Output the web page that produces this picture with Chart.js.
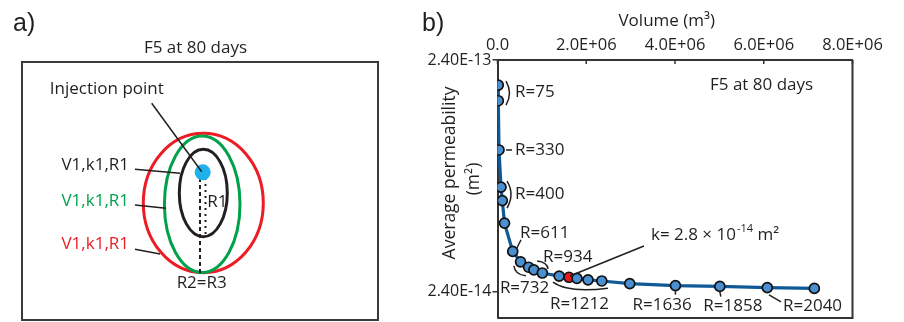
<!DOCTYPE html>
<html>
<head>
<meta charset="utf-8">
<script src="https://cdn.jsdelivr.net/npm/chart.js@4.4.1/dist/chart.umd.min.js"></script>
<style>
  html, body { margin: 0; padding: 0; background: #fff; }
  #wrap { position: relative; width: 904px; height: 322px; overflow: hidden; }
  .panel { position: absolute; top: 0; height: 322px; }
</style>
</head>
<body>
<div id="wrap">
  <div class="panel" style="left:0;width:400px"><canvas id="panelA"></canvas></div>
  <div class="panel" style="left:400px;width:504px"><canvas id="panelB"></canvas></div>
</div>
<script>
// values
const volume = [1.8e4, 1.8e4, 3.4e4, 7.9e4, 1.08e5, 1.58e5, 3.43e5, 5.2e5, 7.0e5, 8.2e5, 1.01e6,
                1.39e6, 1.61e6, 1.79e6, 2.04e6, 2.35e6, 2.98e6, 4.01e6, 5.01e6, 6.08e6, 7.14e6]
const permeability = [1.87e-13, 1.60e-13, 9.8e-14, 6.77e-14, 5.92e-14, 4.73e-14, 3.57e-14, 3.22e-14,
                      3.05e-14, 2.97e-14, 2.88e-14, 2.79e-14, 2.76e-14, 2.73e-14, 2.69e-14, 2.66e-14,
                      2.59e-14, 2.54e-14, 2.52e-14, 2.49e-14, 2.47e-14]
const highlightIndex = 12
const xTicks = [0, 2e6, 4e6, 6e6, 8e6]
const yTicks = [2.4e-13, 2.4e-14]
const yRange = [1.84e-14, 2.4e-13]
const radiusLabels = ['R=75', 'R=330', 'R=400', 'R=611', 'R=934', 'R=732', 'R=1212', 'R=1636', 'R=1858', 'R=2040']

const FONT = "'Open Sans', sans-serif"
const INK = '#231f20'
Chart.defaults.font.family = FONT
Chart.defaults.color = INK

// where each radius label sits, relative to the point it points at (pixels)
const labelLayout = [
  {at: 0, dx: 16.7, dy: 7, align: 'left', mark: ['bracket', 7.7, -4, 14.7, 8, 7.7, 20]},
  {at: 2, dx: 16, dy: 0, align: 'left', mark: ['line', 7, 0, 13, 0]},
  {at: 3, dx: 14, dy: 7, align: 'left', mark: ['bracket', 6, -6, 14, 7, 6, 21]},
  {at: 6, dx: 7.3, dy: -18.7, align: 'left', mark: ['line', 3.8, -2.7, 8.3, -11.7]},
  {at: 9, dx: 9.2, dy: -13, align: 'left', mark: ['bracket', 3.2, -9, 13.2, -8, 14.2, -1]},
  {at: 7, dx: -20.7, dy: 26.5, align: 'left', mark: ['bracket', -6.7, 4, -5.7, 13, 5.3, 14]},
  {at: 11, dx: 20.3, dy: 28, align: 'center', mark: ['bracket', -6.2, 6, 8.8, 17, 48.8, 12]},
  {at: 17, dx: -13.3, dy: 19.3, align: 'center', mark: ['line', 0, 5, 0, 9]},
  {at: 18, dx: 13, dy: 19.3, align: 'center', mark: ['line', 0, 5.3, 1, 10.3]},
  {at: 19, dx: 15.7, dy: 18.3, align: 'left', mark: ['line', 1.7, 7.3, 13.7, 14.3]}
]

const fmtExp = (v, digits) => {
  const [m, e] = v.toExponential(digits).toUpperCase().split('E')
  const sign = e[0] === '-' ? '-' : '+'
  return m + 'E' + sign + e.replace(/[+-]/, '').padStart(2, '0')
}

// ---------- panel a : schematic ----------
const schematic = {
  id: 'schematic',
  afterDraw(chart) {
    const {ctx, chartArea: area} = chart
    const X = v => chart.scales.x.getPixelForValue(v)
    const Y = v => chart.scales.y.getPixelForValue(v)
    ctx.save()
    ctx.fillStyle = INK
    ctx.font = "25px 'Liberation Sans', Arial, sans-serif"
    ctx.textBaseline = 'alphabetic'
    ctx.fillText('a)', 13, 31)

    ctx.strokeStyle = '#3b3b3b'
    ctx.lineWidth = 2
    ctx.strokeRect(area.left, area.top, area.right - area.left, area.bottom - area.top)

    const ellipse = (cx, cy, rx, ry, color) => {
      ctx.beginPath()
      ctx.ellipse(X(cx), Y(cy), rx, ry, 0, 0, Math.PI * 2)
      ctx.strokeStyle = color
      ctx.lineWidth = 3
      ctx.stroke()
    }
    ellipse(181.3, 141, 60, 69.7, '#ed1c24')
    ellipse(180.2, 142.2, 37.8, 68.2, '#00a14b')
    ellipse(181.3, 131, 24, 43.7, INK)

    ctx.strokeStyle = INK
    ctx.lineWidth = 2
    ctx.setLineDash([4, 3])
    ctx.beginPath(); ctx.moveTo(X(178), Y(116)); ctx.lineTo(X(178), Y(211)); ctx.stroke()
    ctx.setLineDash([2, 4])
    ctx.beginPath(); ctx.moveTo(X(183.5), Y(116)); ctx.lineTo(X(183.5), Y(175)); ctx.stroke()
    ctx.setLineDash([])

    ctx.beginPath()
    ctx.arc(X(180.7), Y(110.3), 8, 0, Math.PI * 2)
    ctx.fillStyle = '#1fb1ea'
    ctx.fill()

    const leader = (x0, y0, x1, y1) => {
      ctx.beginPath(); ctx.moveTo(X(x0), Y(y0)); ctx.lineTo(X(x1), Y(y1))
      ctx.strokeStyle = INK; ctx.lineWidth = 1.5; ctx.stroke()
    }
    leader(129.7, 41.3, 179.7, 109.7)
    leader(113, 107.3, 158, 111.3)
    leader(113, 143, 144, 146.3)
    leader(113, 187.3, 138, 192)

    ctx.font = '17px ' + FONT
    ctx.textBaseline = 'middle'
    ctx.textAlign = 'center'
    ctx.fillStyle = INK
    ctx.fillText('F5 at 80 days', 195.5, 48)
    ctx.fillText('Injection point', X(84.8), Y(27))
    ctx.fillText('R2=R3', X(179.7), Y(221))
    ctx.textAlign = 'left'
    ctx.fillText('R1', X(185.3), Y(139.7))
    ctx.textAlign = 'right'
    ctx.fillText('V1,k1,R1', X(107), Y(103))
    ctx.fillStyle = '#00a14b'
    ctx.fillText('V1,k1,R1', X(107), Y(139.5))
    ctx.fillStyle = '#ed1c24'
    ctx.fillText('V1,k1,R1', X(107), Y(182.5))
    ctx.restore()
  }
}

new Chart(document.getElementById('panelA'), {
  type: 'scatter',
  data: {datasets: []},
  options: {
    responsive: true,
    maintainAspectRatio: false,
    animation: false,
    layout: {autoPadding: false, padding: {left: 22, top: 62, right: 22, bottom: 2}},
    plugins: {legend: {display: false}, tooltip: {enabled: false}},
    scales: {
      x: {display: false, min: 0, max: 356},
      y: {display: false, min: 0, max: 258, reverse: true}
    }
  },
  plugins: [schematic]
})

// ---------- panel b : permeability vs volume ----------
const decorations = {
  id: 'decorations',
  afterDraw(chart) {
    const {ctx, chartArea: area} = chart
    const xs = chart.scales.x, ys = chart.scales.y
    const pt = i => [xs.getPixelForValue(volume[i]), ys.getPixelForValue(permeability[i])]
    ctx.save()
    ctx.strokeStyle = '#333'
    ctx.lineWidth = 2
    ctx.beginPath()
    ctx.moveTo(area.right, area.top); ctx.lineTo(area.right, area.bottom); ctx.lineTo(area.left, area.bottom)
    ctx.stroke()
    // inward ticks on the top axis
    ctx.lineWidth = 1.5
    xTicks.forEach(v => {
      const x = xs.getPixelForValue(v)
      ctx.beginPath(); ctx.moveTo(x, area.top); ctx.lineTo(x, area.top + 4); ctx.stroke()
    })

    ctx.fillStyle = INK
    ctx.font = "25px 'Liberation Sans', Arial, sans-serif"
    ctx.fillText('b)', 22, 31)

    ctx.font = '17px ' + FONT
    ctx.textBaseline = 'middle'
    ctx.textAlign = 'center'
    ctx.fillText('Volume (m³)', 266.7, 21)
    ctx.font = '17.5px ' + FONT
    ctx.save()
    ctx.translate(50, 173); ctx.rotate(-Math.PI / 2)
    ctx.fillText('Average permeability', 0, 0)
    ctx.restore()
    ctx.save()
    ctx.translate(74, 179); ctx.rotate(-Math.PI / 2)
    ctx.fillText('(m²)', 0, 0)
    ctx.restore()

    ctx.font = '17px ' + FONT
    ctx.textAlign = 'left'
    ctx.fillText('F5 at 80 days', 310, 85)

    ctx.strokeStyle = INK
    ctx.lineWidth = 1.5
    labelLayout.forEach((l, k) => {
      const [px, py] = pt(l.at)
      const m = l.mark
      ctx.beginPath()
      ctx.moveTo(px + m[1], py + m[2])
      if (m[0] === 'bracket') ctx.quadraticCurveTo(px + m[3], py + m[4], px + m[5], py + m[6])
      else ctx.lineTo(px + m[3], py + m[4])
      ctx.stroke()
      ctx.textAlign = l.align
      ctx.fillText(radiusLabels[k], px + l.dx, py + l.dy)
    })

    // highlighted permeability callout
    const [hx, hy] = pt(highlightIndex)
    ctx.beginPath(); ctx.moveTo(hx + 1, hy - 1.3); ctx.lineTo(hx + 75, hy - 31.3); ctx.stroke()
    ctx.textAlign = 'left'
    let tx = hx + 82
    const ty = hy - 42.3
    const mant = (permeability[highlightIndex] / 1e-14).toFixed(1)
    const part1 = 'k= ' + mant + ' × 10'
    ctx.fillText(part1, tx, ty)
    tx += ctx.measureText(part1).width + 1
    ctx.font = '11px ' + FONT
    ctx.fillText('-14', tx, ty - 6)
    tx += ctx.measureText('-14').width
    ctx.font = '17px ' + FONT
    ctx.fillText(' m²', tx, ty)
    ctx.restore()
  }
}

new Chart(document.getElementById('panelB'), {
  type: 'line',
  data: {
    datasets: [{
      data: volume.map((v, i) => ({x: v, y: permeability[i]})),
      borderColor: '#0f5a96',
      borderWidth: 3.2,
      tension: 0,
      pointRadius: 5,
      pointBorderWidth: 1.7,
      pointBorderColor: '#111',
      pointBackgroundColor: volume.map((v, i) => i === highlightIndex ? '#e8191f' : '#4a8fd0')
    }]
  },
  options: {
    responsive: true,
    maintainAspectRatio: false,
    animation: false,
    layout: {autoPadding: false, padding: {left: 0, top: 0, right: 51.5, bottom: 4}},
    plugins: {legend: {display: false}, tooltip: {enabled: false}},
    scales: {
      x: {
        type: 'linear',
        position: 'top',
        min: 0,
        max: 8e6,
        afterBuildTicks: s => { s.ticks = xTicks.map(v => ({value: v})); s.min = 0; s.max = 8e6 },
        afterFit: s => { s.height = 60; s.paddingLeft = 0; s.paddingRight = 0 },
        grid: {display: false},
        border: {display: true, color: '#333', width: 2},
        ticks: {
          padding: -3,
          maxRotation: 0,
          font: {size: 16.5},
          color: INK,
          callback: v => v === 0 ? '0.0' : fmtExp(v, 1)
        }
      },
      y: {
        type: 'logarithmic',
        bounds: 'data',
        min: yRange[0],
        max: yRange[1],
        afterBuildTicks: s => { s.ticks = yTicks.map(v => ({value: v})); s.min = yRange[0]; s.max = yRange[1] },
        // labels are not at the ends of the axis, so no extra room for them
        afterFit: s => { s.width = 97.5; s.paddingTop = 0; s.paddingBottom = 0 },
        grid: {display: true, drawOnChartArea: false, drawTicks: true, tickLength: 5, color: '#333', lineWidth: 1.5},
        border: {display: true, color: '#333', width: 2},
        ticks: {
          padding: 1,
          font: {size: 16},
          color: INK,
          callback: v => fmtExp(v, 2)
        }
      }
    }
  },
  plugins: [decorations]
})
</script>
</body>
</html>
